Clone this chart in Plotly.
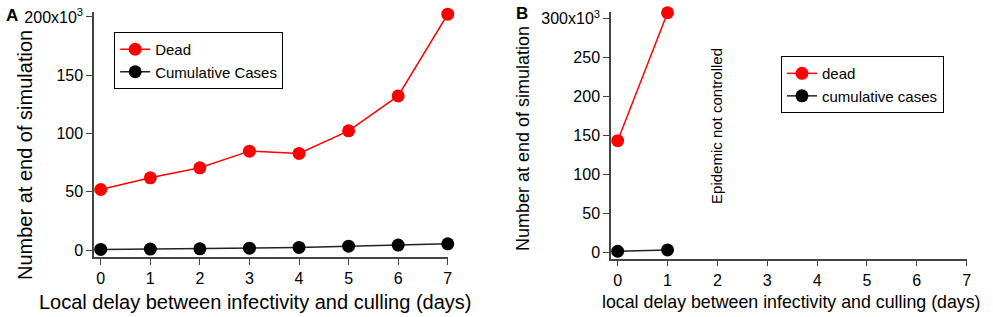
import plotly.graph_objects as go

# Panel A data
delay_a = [0, 1, 2, 3, 4, 5, 6, 7]
dead_a = [52, 62, 70.6, 84.9, 82.9, 102.3, 132.3, 202.4]
cases_a = [0.6, 0.9, 1.1, 1.7, 2.3, 3.4, 4.3, 5.4]

# Panel B data
delay_b = [0, 1]
dead_b = [143.6, 307.7]
cases_b = [1.8, 3.5]

yticks_a = [0, 50, 100, 150, 200]
yticklabels_a = ["0", "50", "100", "150", "200x10<sup>3</sup>"]
yticks_b = [0, 50, 100, 150, 200, 250, 300]
yticklabels_b = ["0", "50", "100", "150", "200", "250", "300x10<sup>3</sup>"]
xticks = [0, 1, 2, 3, 4, 5, 6, 7]

RED = "#ff0000"
BLK = "#000000"
FONT = "Liberation Sans, Arial, sans-serif"

fig = go.Figure()
fig.add_trace(go.Scatter(x=delay_a, y=dead_a, mode="lines+markers", name="Dead",
                         line=dict(color=RED, width=1.5), marker=dict(color=RED, size=13),
                         xaxis="x", yaxis="y", legend="legend", cliponaxis=False))
fig.add_trace(go.Scatter(x=delay_a, y=cases_a, mode="lines+markers", name="Cumulative Cases",
                         line=dict(color="#222", width=1.5), marker=dict(color=BLK, size=13),
                         xaxis="x", yaxis="y", legend="legend", cliponaxis=False))
fig.add_trace(go.Scatter(x=delay_b, y=dead_b, mode="lines+markers", name="dead",
                         line=dict(color=RED, width=1.5), marker=dict(color=RED, size=13),
                         xaxis="x2", yaxis="y2", legend="legend2", cliponaxis=False))
fig.add_trace(go.Scatter(x=delay_b, y=cases_b, mode="lines+markers", name="cumulative cases",
                         line=dict(color="#222", width=1.5), marker=dict(color=BLK, size=13),
                         xaxis="x2", yaxis="y2", legend="legend2", cliponaxis=False))

axcommon = dict(showline=True, linecolor="#444", linewidth=1.5, showgrid=False, zeroline=False,
                ticks="outside", ticklen=6, tickwidth=1.2, tickcolor="#444", automargin=False,
                tickfont=dict(family=FONT, size=16, color="black"))

fig.update_layout(
    width=993, height=317, margin=dict(l=0, r=0, t=0, b=0, autoexpand=False),
    paper_bgcolor="white", plot_bgcolor="white",
    font=dict(family=FONT, color="black"),
    xaxis=dict(domain=[0.0947, 0.4509], range=[-0.135, 7.0], tickvals=xticks,
               anchor="y", **axcommon),
    yaxis=dict(domain=[0.190, 0.962], range=[-5.7, 204.2], tickvals=yticks_a,
               ticktext=yticklabels_a, anchor="x", **axcommon),
    xaxis2=dict(domain=[0.6153, 0.9735], range=[-0.134, 7.0], tickvals=xticks,
                anchor="y2", **axcommon),
    yaxis2=dict(domain=[0.184, 0.963], range=[-7.7, 309], tickvals=yticks_b,
                ticktext=yticklabels_b, anchor="x2", **axcommon),
    legend=dict(x=0.115, y=0.899, xanchor="left", yanchor="top", bordercolor="black",
                borderwidth=1, bgcolor="white", font=dict(family=FONT, size=15),
                tracegroupgap=0, itemwidth=30),
    legend2=dict(x=0.7865, y=0.823, xanchor="left", yanchor="top", bordercolor="black",
                 borderwidth=1, bgcolor="white", font=dict(family=FONT, size=15),
                 tracegroupgap=0, itemwidth=30),
    showlegend=True,
)

ann = [
    dict(text="<b>A</b>", x=12, y=15, size=17, angle=0),
    dict(text="<b>B</b>", x=522, y=14, size=17, angle=0),
    dict(text="Number at end of simulation", x=25, y=155, size=20, angle=-90),
    dict(text="Number at end of simulation", x=523, y=139, size=18, angle=-90),
    dict(text="Local delay between infectivity and culling (days)", x=255, y=302, size=20, angle=0),
    dict(text="local delay between infectivity and culling (days)", x=791, y=302, size=17.8, angle=0),
]
for a in ann:
    fig.add_annotation(text=a["text"], x=a["x"] / 993, y=1 - a["y"] / 317, xref="paper", yref="paper",
                       xanchor="center", yanchor="middle", showarrow=False, textangle=a["angle"],
                       font=dict(family=FONT, size=a["size"], color="black"))

fig.add_annotation(text="Epidemic not controlled", x=1.97, y=162.4, xref="x2", yref="y2",
                   showarrow=False, textangle=-90, xanchor="center", yanchor="middle",
                   font=dict(family=FONT, size=15, color="black"))

fig.write_html("out.html", config={"displayModeBar": False},
               post_script="document.body.style.margin='0';document.body.style.padding='0';"
                           "document.body.style.overflow='hidden';")
